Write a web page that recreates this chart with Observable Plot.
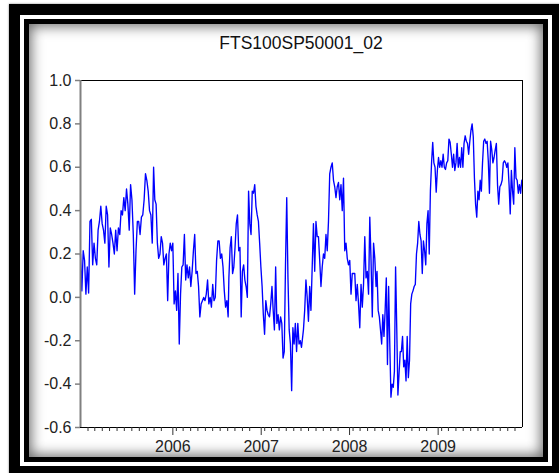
<!DOCTYPE html>
<html>
<head>
<meta charset="utf-8">
<script src="https://cdn.jsdelivr.net/npm/d3@7"></script>
<script src="https://cdn.jsdelivr.net/npm/@observablehq/plot@0.6"></script>
<style>
  html, body { margin: 0; padding: 0; background: #fff; }
  #page { position: relative; width: 559px; height: 473px; overflow: hidden; background: #fff; }
  #outer { position: absolute; left: 9px; top: 4px; width: 554px; height: 473px; box-sizing: border-box; border: 11px solid #000; box-shadow: 0 0 2px rgba(0,0,0,0.5); }
  #inner { position: absolute; left: 24px; top: 19px; width: 524px; height: 443px; box-sizing: border-box; border: 5px solid #000; background: #fff; box-shadow: inset 0 0 13px 2px rgba(0,0,0,0.6); }
  #title { position: absolute; left: 80px; width: 442px; top: 33px; text-align: center; font-family: "Liberation Sans", Arial, sans-serif; font-size: 17.5px; color: #111; }
  #chart { position: absolute; left: 0; top: 0; }
</style>
</head>
<body>
<div id="page">
  <div id="outer"></div>
  <div id="inner"></div>
  <div id="title">FTS100SP50001_02</div>
  <div id="chart"></div>
</div>
<script>
const segStarts = ["2005-01-01", "2005-11-04", "2006-09-06", "2007-07-11", "2008-05-10", "2009-03-13"];
const segEnds   = ["2005-10-30", "2006-09-03", "2007-07-03", "2008-05-06", "2009-03-08", "2009-12-29"];

const values1 = [0.2, 0.03, 0.215, 0.17, 0.015, 0.14, 0.02, 0.35, 0.36, 0.15, 0.25, 0.18, 0.15, 0.31, 0.35, 0.42, 0.34, 0.31, 0.25, 0.42, 0.38, 0.14, 0.32, 0.29, 0.25, 0.2, 0.31, 0.215, 0.32, 0.29, 0.4, 0.38, 0.46, 0.4, 0.5, 0.43, 0.31, 0.52, 0.45, 0.29, 0.015, 0.215, 0.35, 0.35, 0.29, 0.37, 0.38, 0.45, 0.57, 0.54, 0.49, 0.4, 0.38, 0.25, 0.6];
const values2 = [0.45, 0.43, 0.25, 0.18, 0.2, 0.28, 0.25, 0.15, 0.18, 0.2, -0.015, 0.2, 0.25, 0.215, 0.25, -0.03, 0.03, -0.06, 0.11, -0.215, 0.015, 0.14, 0.15, 0.29, 0.08, 0.15, 0.09, 0.14, 0.05, 0.12, 0.215, 0.29, 0.11, 0.12, 0.05, -0.09, -0.03, -0.015, 0.0, -0.015, 0.015, 0.08, -0.03, 0.0, -0.045, 0.06, -0.015, 0.0, 0.17, 0.26, 0.26, 0.18, 0.2, 0.14, 0.03, -0.045, -0.015, -0.09];
const values3 = [0.09, 0.23, 0.28, 0.11, 0.14, 0.23, 0.34, 0.38, 0.215, 0.23, -0.09, 0.12, 0.15, 0.08, 0.05, 0.0, 0.49, 0.34, 0.29, 0.49, 0.48, 0.52, 0.42, 0.38, 0.35, 0.25, 0.14, 0.05, -0.08, -0.17, -0.015, -0.06, -0.08, -0.09, -0.03, 0.05, -0.06, -0.15, 0.14, -0.12, -0.08, -0.15, -0.09, -0.12, -0.28, -0.25, 0.15, 0.46, 0.09, -0.15, -0.215, -0.43, -0.14, -0.215, -0.12, -0.25, -0.12, -0.215, -0.2, -0.23];
const values4 = [-0.15, -0.06, 0.08, 0.0, -0.11, 0.05, -0.06, 0.14, 0.34, 0.12, 0.35, 0.28, 0.28, 0.17, 0.05, 0.14, 0.2, 0.18, 0.29, 0.215, 0.35, 0.57, 0.6, 0.62, 0.54, 0.51, 0.46, 0.51, 0.53, 0.45, 0.52, 0.4, 0.55, 0.215, 0.25, 0.18, 0.15, 0.17, 0.015, 0.11, 0.11, 0.11, -0.015, 0.06, -0.03, -0.14, 0.06, -0.045, 0.06, 0.28, 0.09, 0.12, 0.015, 0.37, 0.17, -0.09, 0.25, 0.18, 0.05];
const values5 = [0.12, -0.06, -0.09, -0.15, -0.215, -0.08, -0.18, -0.06, 0.09, -0.31, 0.05, -0.215, -0.46, -0.4, -0.415, -0.34, 0.14, -0.14, -0.45, -0.35, -0.25, -0.25, -0.18, -0.32, -0.29, -0.385, -0.18, -0.37, -0.29, -0.03, 0.015, 0.03, 0.05, 0.06, 0.2, 0.25, 0.35, 0.29, 0.26, 0.11, 0.26, 0.215, 0.15, 0.34, 0.4, 0.2, 0.49, 0.62, 0.715, 0.62, 0.6, 0.485, 0.585, 0.645, 0.6, 0.63, 0.6, 0.66, 0.6, 0.59, 0.62, 0.63, 0.73, 0.715];
const values6 = [0.66, 0.6, 0.66, 0.585, 0.62, 0.71, 0.6, 0.645, 0.6, 0.69, 0.6, 0.71, 0.745, 0.72, 0.71, 0.66, 0.72, 0.77, 0.8, 0.74, 0.55, 0.43, 0.37, 0.49, 0.45, 0.54, 0.49, 0.62, 0.72, 0.73, 0.71, 0.72, 0.63, 0.48, 0.72, 0.68, 0.62, 0.645, 0.68, 0.71, 0.52, 0.43, 0.51, 0.52, 0.54, 0.62, 0.63, 0.62, 0.6, 0.62, 0.52, 0.385, 0.585, 0.49, 0.43, 0.69, 0.55, 0.54, 0.48, 0.52, 0.48, 0.54];

const yTicks = [-0.6, -0.4, -0.2, 0.0, 0.2, 0.4, 0.6, 0.8, 1.0];
const yearTicks = ["2006", "2007", "2008", "2009"];
const xDomain = ["2005-01-01", "2010-01-01"];
const titleText = "FTS100SP50001_02";

const segValues = [values1, values2, values3, values4, values5, values6];
const data = [];
segValues.forEach((vals, s) => {
  const t0 = new Date(segStarts[s]).getTime();
  const t1 = new Date(segEnds[s]).getTime();
  vals.forEach((v, i) => {
    data.push({date: new Date(t0 + (t1 - t0) * i / (vals.length - 1)), value: v});
  });
});

document.getElementById("title").textContent = titleText;

const x0 = new Date(xDomain[0]), x1 = new Date(xDomain[1]);
const monthTicks = d3.utcMonth.range(new Date("2005-02-01"), x1).filter(d => d.getUTCMonth() !== 0);
const yearDates = yearTicks.map(y => new Date(y + "-01-01"));

const font = "Liberation Sans, Arial, sans-serif";

const chart = Plot.plot({
  width: 559,
  height: 473,
  marginLeft: 80,
  marginRight: 37,
  marginTop: 80,
  marginBottom: 46,
  style: {background: "transparent", fontFamily: font, overflow: "visible"},
  x: {type: "utc", domain: [x0, x1]},
  y: {domain: [-0.6, 1.0]},
  marks: [
    Plot.lineY(data, {x: "date", y: "value", stroke: "#0000ff", strokeWidth: 1.35, strokeLinejoin: "round"}),
    Plot.ruleY([1.0], {stroke: "#000", strokeWidth: 1}),
    Plot.ruleY([-0.6], {stroke: "#000", strokeWidth: 1}),
    Plot.ruleX([x1], {stroke: "#000", strokeWidth: 1}),
    Plot.ruleX([x0], {stroke: "#808080", strokeWidth: 2}),
    Plot.axisY({ticks: yTicks, tickFormat: d => d.toFixed(1), tickSize: 5, tickPadding: 4, stroke: "#808080", strokeWidth: 1.5, fill: "#222", fontSize: 16, label: null}),
    Plot.axisX({ticks: monthTicks, tickSize: 4, text: null, label: null, stroke: "#333"}),
    Plot.axisX({ticks: yearDates, tickSize: 8, tickPadding: 5, tickFormat: d => String(d.getUTCFullYear()), dx: 4, fill: "#222", fontSize: 16, label: null, stroke: "#333"})
  ]
});
document.getElementById("chart").appendChild(chart);
</script>
</body>
</html>
